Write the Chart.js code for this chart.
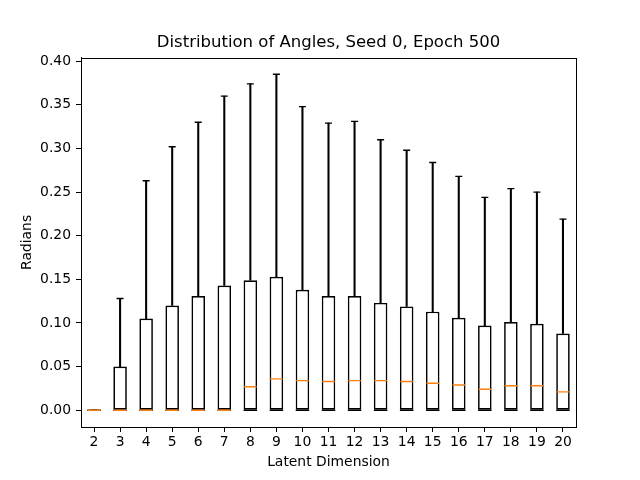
<!DOCTYPE html>
<html>
<head>
<meta charset="utf-8">
<script src="https://cdn.jsdelivr.net/npm/chart.js@4"></script>
<style>
  html, body { margin: 0; padding: 0; background: #fff; }
  canvas { display: block; }
</style>
</head>
<body>
<canvas id="chart" width="640" height="480"></canvas>
<script>
// box plot stats per latent dimension
const dims = ['2', '3', '4', '5', '6', '7', '8', '9', '10', '11', '12', '13', '14', '15', '16', '17', '18', '19', '20'];
const mins = [0, 0, 0, 0, 0, 0, 0, 0, 0, 0, 0, 0, 0, 0, 0, 0, 0, 0, 0];
const q1s = [0, 0, 0, 0, 0, 0, 0, 0, 0, 0, 0, 0, 0, 0, 0, 0, 0, 0, 0];
const medians = [0, 0, 0, 0, 0, 0, 0.027, 0.036, 0.034, 0.033, 0.034, 0.034, 0.033, 0.031, 0.029, 0.024, 0.028, 0.028, 0.021];
const q3s = [0, 0.050, 0.105, 0.120, 0.131, 0.143, 0.149, 0.153, 0.138, 0.131, 0.131, 0.123, 0.119, 0.113, 0.106, 0.097, 0.101, 0.099, 0.088];
const maxs = [0, 0.128, 0.263, 0.302, 0.330, 0.360, 0.374, 0.385, 0.348, 0.329, 0.331, 0.310, 0.298, 0.284, 0.268, 0.244, 0.254, 0.250, 0.219];
const yTicks = [0, 0.05, 0.10, 0.15, 0.20, 0.25, 0.30, 0.35, 0.40];

const font = 'DejaVu Sans';
const lw = 1.4;

// frame around the plot area (matplotlib spines)
const frame = {
  id: 'frame',
  afterDatasetsDraw(chart) {
    const { ctx, chartArea: a } = chart;
    ctx.save();
    ctx.strokeStyle = '#000';
    ctx.lineWidth = 1;
    ctx.strokeRect(Math.round(a.left) + 0.5, Math.round(a.top) + 0.5,
      Math.round(a.right - a.left), Math.round(a.bottom - a.top));
    ctx.restore();
  }
};

const capStyle = (color, radius) => ({
  type: 'line',
  showLine: false,
  pointStyle: 'line',
  pointRadius: radius,
  pointHoverRadius: radius,
  pointBorderColor: color,
  pointBorderWidth: lw,
  borderColor: color
});

new Chart(document.getElementById('chart'), {
  type: 'bar',
  data: {
    labels: dims,
    datasets: [
      Object.assign({ data: mins, order: 5 }, capStyle('#000', 6.75)),
      {
        // upper whisker
        data: q3s.map((q, i) => [q, maxs[i]]),
        backgroundColor: '#000',
        borderWidth: 0,
        barThickness: lw,
        grouped: false,
        order: 4
      },
      {
        // box from q1 to q3
        data: q1s.map((q, i) => [q, q3s[i]]),
        backgroundColor: '#fff',
        borderColor: '#000',
        borderWidth: 1.7,
        borderSkipped: false,
        barPercentage: 0.52,
        categoryPercentage: 1,
        grouped: false,
        order: 3
      },
      Object.assign({ data: maxs, order: 2 }, capStyle('#000', 3.5)),
      Object.assign({ data: medians, order: 1 }, capStyle('#ff7f0e', 6.3))
    ]
  },
  options: {
    responsive: false,
    animation: false,
    events: [],
    layout: { padding: { left: 0, right: 64, top: 0, bottom: 0 } },
    plugins: {
      legend: { display: false },
      tooltip: { enabled: false },
      title: {
        display: true,
        text: 'Distribution of Angles, Seed 0, Epoch 500',
        fullSize: false,
        color: '#000',
        font: { family: font, size: 16.5, weight: 'normal' },
        padding: { top: 33, bottom: 5 }
      }
    },
    scales: {
      x: {
        offset: true,
        grid: { display: true, offset: false, drawOnChartArea: false, drawTicks: true, tickLength: 5, color: '#000' },
        border: { display: true, color: '#000' },
        ticks: { color: '#000', padding: 2, font: { family: font, size: 13.9 }, maxRotation: 0, autoSkip: false },
        title: { display: true, text: 'Latent Dimension', color: '#000', font: { family: font, size: 13.9 }, padding: { top: 4, bottom: 9 } },
        afterFit(scale) { scale.height = 53; }
      },
      y: {
        min: -0.0192,
        max: 0.4039,
        grid: { display: true, drawOnChartArea: false, drawTicks: true, tickLength: 5, color: '#000' },
        border: { display: true, color: '#000' },
        afterBuildTicks(scale) { scale.ticks = yTicks.map(v => ({ value: v })); },
        ticks: {
          color: '#000',
          padding: 5,
          font: { family: font, size: 13.9 },
          callback: v => v.toFixed(2)
        },
        title: { display: true, text: 'Radians', color: '#000', font: { family: font, size: 13.9 }, padding: { top: 19, bottom: 4 } },
        afterFit(scale) { scale.width = 81; }
      }
    }
  },
  plugins: [frame]
});
</script>
</body>
</html>
